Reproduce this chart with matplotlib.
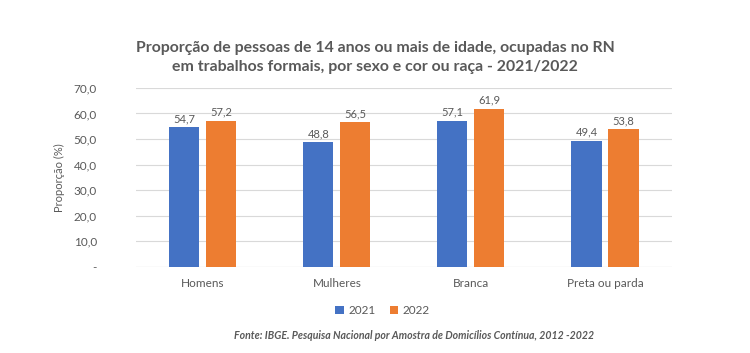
import numpy as np
import matplotlib.pyplot as plt
from matplotlib.ticker import FuncFormatter

categories = ['Homens', 'Mulheres', 'Branca', 'Preta ou parda']
vals_2021 = [54.7, 48.8, 57.1, 49.4]
vals_2022 = [57.2, 56.5, 61.9, 53.8]
series_names = ['2021', '2022']

blue = '#4472C4'
orange = '#ED7D31'
gray = '#595959'

plt.rcParams['font.family'] = ['Lato', 'DejaVu Sans']

fig = plt.figure(figsize=(7.5, 3.53), dpi=100)
ax = fig.add_axes([0.181, 0.244, 0.715, 0.507])

x = np.arange(len(categories))
w = 0.225
off = 0.138
b1 = ax.bar(x - off, vals_2021, w, color=blue, label=series_names[0], zorder=3)
b2 = ax.bar(x + off, vals_2022, w, color=orange, label=series_names[1], zorder=3)

for bars, vals in ((b1, vals_2021), (b2, vals_2022)):
    for r, v in zip(bars, vals):
        ax.text(r.get_x() + r.get_width() / 2, v + 1.2, f'{v:.1f}'.replace('.', ','),
                ha='center', va='bottom', fontsize=8, color=gray)

ax.set_xlim(-0.5, len(categories) - 0.5)
ax.set_ylim(0, 70)
ax.set_yticks(np.arange(0, 71, 10))
ax.yaxis.set_major_formatter(FuncFormatter(lambda v, p: '-' if v == 0 else f'{v:.1f}'.replace('.', ',')))
ax.set_xticks(x)
ax.set_xticklabels(categories)
ax.tick_params(axis='both', length=0, colors=gray, labelsize=8.5)
ax.tick_params(axis='x', pad=8)
ax.tick_params(axis='y', pad=28)
ax.grid(axis='y', color='#D9D9D9', linewidth=0.8, zorder=0)
for s in ax.spines.values():
    s.set_visible(False)
ax.axhline(0, color='#D9D9D9', linewidth=0.8, zorder=1)

ax.set_ylabel('Proporção (%)', fontsize=8, color=gray, labelpad=6)

fig.text(0.5, 0.838, 'Proporção de pessoas de 14 anos ou mais de idade, ocupadas no RN\n'
         'em trabalhos formais, por sexo e cor ou raça - 2021/2022',
         ha='center', va='center', fontsize=11.4, fontweight='bold', color=gray, linespacing=1.45)

fig.legend(handles=[b1, b2], loc='center', bbox_to_anchor=(0.51, 0.12), ncol=2, frameon=False,
           fontsize=8.5, handlelength=0.7, handleheight=0.7, handletextpad=0.4, columnspacing=1.2,
           labelcolor=gray)

fig.text(0.552, 0.05, 'Fonte: IBGE. Pesquisa Nacional por Amostra de Domicílios Contínua, 2012 -2022',
         ha='center', va='center', fontsize=7.6, style='italic', fontweight='bold', color=gray)

fig.savefig('out.png', dpi=100)
